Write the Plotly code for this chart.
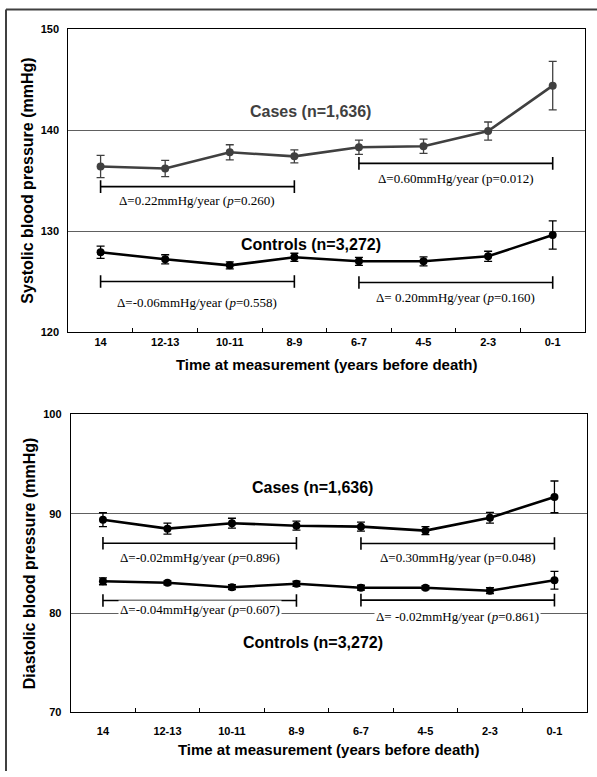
import plotly.graph_objects as go

# ---------------- data ----------------
categories = ["14", "12-13", "10-11", "8-9", "6-7", "4-5", "2-3", "0-1"]

sbp_cases = [136.4, 136.2, 137.8, 137.4, 138.3, 138.4, 139.9, 144.4]
sbp_cases_err = [1.1, 0.8, 0.75, 0.65, 0.7, 0.7, 0.9, 2.4]
sbp_controls = [127.9, 127.2, 126.6, 127.4, 127.0, 127.0, 127.5, 129.6]
sbp_controls_err = [0.6, 0.45, 0.35, 0.4, 0.4, 0.45, 0.5, 1.4]

dbp_cases = [89.4, 88.5, 89.05, 88.8, 88.7, 88.3, 89.6, 91.7]
dbp_cases_err = [0.7, 0.55, 0.5, 0.45, 0.45, 0.4, 0.55, 1.6]
dbp_controls = [83.2, 83.05, 82.6, 82.95, 82.55, 82.55, 82.25, 83.3]
dbp_controls_err = [0.35, 0.2, 0.25, 0.25, 0.25, 0.2, 0.3, 0.9]

# trend brackets: (start category, end category, bracket y, text y, text)
sbp_trends = [
    ("14", "8-9", 134.4, 133.05, "Δ=0.22mmHg/year (<i>p</i>=0.260)"),
    ("6-7", "0-1", 136.7, 135.2, "Δ=0.60mmHg/year (p=0.012)"),
    ("14", "8-9", 125.0, 122.9, "Δ=-0.06mmHg/year (<i>p</i>=0.558)"),
    ("6-7", "0-1", 124.9, 123.4, "Δ= 0.20mmHg/year (<i>p</i>=0.160)"),
]
dbp_trends = [
    ("14", "8-9", 87.03, 85.6, "Δ=-0.02mmHg/year (<i>p</i>=0.896)"),
    ("6-7", "0-1", 87.0, 85.6, "Δ=0.30mmHg/year (p=0.048)"),
    ("14", "8-9", 81.27, 80.35, "Δ=-0.04mmHg/year (<i>p</i>=0.607)"),
    ("6-7", "0-1", 81.3, 79.65, "Δ= -0.02mmHg/year (<i>p</i>=0.861)"),
]
sbp_labels = [("Cases (n=1,636)", 141.8, "#404040"), ("Controls (n=3,272)", 128.7, "black")]
dbp_labels = [("Cases (n=1,636)", 92.6, "black"), ("Controls (n=3,272)", 77.0, "black")]
label_x = 3.25

SANS = "Liberation Sans, Arial, sans-serif"
SERIF = "Liberation Serif, Times New Roman, serif"

fig = go.Figure()


def add_series(y, err, color, xa, ya):
    fig.add_trace(go.Scatter(
        x=categories, y=y, mode="lines+markers",
        line=dict(color=color, width=2.6),
        marker=dict(color=color, size=8),
        error_y=dict(type="data", array=err, visible=True, color=color,
                     thickness=1.3, width=4),
        xaxis=xa, yaxis=ya, showlegend=False, hoverinfo="skip"))


add_series(sbp_cases, sbp_cases_err, "#404040", "x", "y")
add_series(sbp_controls, sbp_controls_err, "black", "x", "y")
add_series(dbp_cases, dbp_cases_err, "black", "x2", "y2")
add_series(dbp_controls, dbp_controls_err, "black", "x2", "y2")

annotations = []
for trends, xa, ya in [(sbp_trends, "x", "y"), (dbp_trends, "x2", "y2")]:
    for c0, c1, yb, yt, txt in trends:
        fig.add_trace(go.Scatter(
            x=[c0, c1], y=[yb, yb], mode="lines+markers",
            line=dict(color="black", width=1.6),
            marker=dict(symbol="line-ns", size=9,
                        line=dict(color="black", width=1.6)),
            xaxis=xa, yaxis=ya, showlegend=False, hoverinfo="skip"))
        i0, i1 = categories.index(c0), categories.index(c1)
        annotations.append(dict(
            x=(i0 + i1) / 2, y=yt, xref=xa, yref=ya, text=txt,
            showarrow=False, bgcolor="white", borderpad=1,
            font=dict(family=SERIF, size=13, color="black")))

for labels, xa, ya in [(sbp_labels, "x", "y"), (dbp_labels, "x2", "y2")]:
    for txt, yv, col in labels:
        annotations.append(dict(
            x=label_x, y=yv, xref=xa, yref=ya, text="<b>%s</b>" % txt,
            showarrow=False,
            font=dict(family=SANS, size=16, color=col)))

W, H = 597, 777


def xaxis(domain, anchor, label_gap, title_gap):
    return dict(
        domain=domain, anchor=anchor, type="category",
        categoryorder="array", categoryarray=categories,
        range=[-0.5, 7.5], ticks="inside", tickson="boundaries",
        ticklen=4, tickcolor="black", tickwidth=1,
        showline=True, linecolor="black", linewidth=1, mirror=True,
        showgrid=False, zeroline=False, ticklabelstandoff=label_gap,
        tickfont=dict(family=SANS, size=11, color="black", weight="bold"),
        title=dict(text="<b>Time at measurement (years before death)</b>",
                   font=dict(family=SANS, size=15, color="black"),
                   standoff=title_gap),
    )


def yaxis(domain, anchor, rng, title):
    return dict(
        domain=domain, anchor=anchor, range=rng, dtick=10,
        showline=True, linecolor="black", linewidth=1, mirror=True,
        showgrid=True, gridcolor="#606060", gridwidth=1, zeroline=False,
        ticks="", ticklabelstandoff=6,
        tickfont=dict(family=SANS, size=11, color="black", weight="bold"),
        title=dict(text="<b>%s</b>" % title,
                   font=dict(family=SANS, size=16, color="black"), standoff=3),
    )


fig.update_layout(
    width=W, height=H, autosize=False,
    margin=dict(l=0, r=0, t=0, b=0),
    paper_bgcolor="white", plot_bgcolor="white",
    xaxis=xaxis([68.3 / W, 585 / W], "y", 0, 12),
    yaxis=yaxis([1 - 331.1 / H, 1 - 23.5 / H], "x", [120, 150],
                "Systolic blood pressure (mmHg)"),
    xaxis2=xaxis([70.7 / W, 586.7 / W], "y2", 8, 8),
    yaxis2=yaxis([1 - 717.4 / H, 1 - 414.9 / H], "x2", [70, 100],
                 "Diastolic blood pressure (mmHg)"),
    annotations=annotations,
    shapes=[
        dict(type="line", xref="paper", yref="paper", layer="above",
             x0=6 / W, x1=1.0, y0=1 - 3.5 / H, y1=1 - 3.5 / H,
             line=dict(color="#404040", width=2)),
        dict(type="line", xref="paper", yref="paper", layer="above",
             x0=6 / W, x1=6 / W, y0=0.0, y1=1 - 3.5 / H,
             line=dict(color="#404040", width=2)),
    ],
)

fig.write_html(
    "out.html",
    config={"displayModeBar": False},
    post_script="document.body.style.margin='0';"
                "document.body.style.padding='0';"
                "document.body.style.overflow='hidden';"
                "document.documentElement.style.overflow='hidden';",
)
